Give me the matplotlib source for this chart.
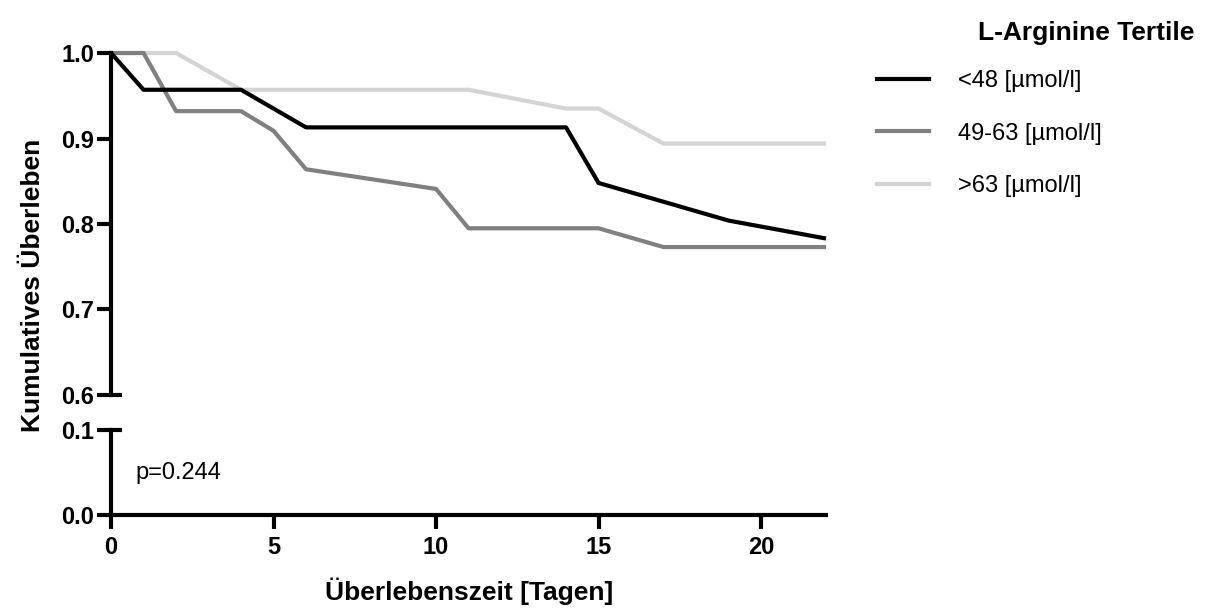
import matplotlib
matplotlib.use('Agg')
import matplotlib.pyplot as plt
from matplotlib.lines import Line2D

plt.rcParams['font.family'] = ['Liberation Sans', 'DejaVu Sans']

# Kaplan-Meier estimates per L-arginine tertile (days, cumulative survival)
days_low = [0, 1, 2, 3, 4, 5, 6, 10, 11, 14, 15, 17, 19, 22]
surv_low = [1.0, 0.957, 0.957, 0.957, 0.957, 0.935, 0.913, 0.913, 0.913, 0.913, 0.848, 0.826, 0.804, 0.783]

days_mid = [0, 1, 2, 4, 5, 6, 10, 11, 15, 17, 22]
surv_mid = [1.0, 1.0, 0.932, 0.932, 0.909, 0.864, 0.841, 0.795, 0.795, 0.773, 0.773]

days_high = [0, 2, 4, 10, 11, 14, 15, 17, 22]
surv_high = [1.0, 1.0, 0.957, 0.957, 0.957, 0.935, 0.935, 0.894, 0.894]

labels = ['<48 [µmol/l]', '49-63 [µmol/l]', '>63 [µmol/l]']
colors = ['#000000', '#808080', '#d4d4d4']

upper_ticks = [0.6, 0.7, 0.8, 0.9, 1.0]
lower_ticks = [0.0, 0.1]
x_ticks = [0, 5, 10, 15, 20]

fig = plt.figure(figsize=(12.11, 6.10), dpi=100)
left, width = 0.0917, 0.5904
ax_up = fig.add_axes([left, 0.3525, width, 0.5606])
ax_lo = fig.add_axes([left, 0.1557, width, 0.1394])

lw = 3
tick_fs = 17
series = [(days_low, surv_low), (days_mid, surv_mid), (days_high, surv_high)]
# draw light lines first so black sits on top
for (d, s), c in reversed(list(zip(series, colors))):
    ax_up.plot(d, s, color=c, lw=lw, clip_on=False, solid_capstyle='butt')

for ax in (ax_up, ax_lo):
    ax.set_xlim(0, 22)
    for sp in ('top', 'right'):
        ax.spines[sp].set_visible(False)
    ax.spines['left'].set_linewidth(lw)
    ax.spines['bottom'].set_linewidth(lw)
    ax.tick_params(axis='both', width=lw, length=10)

ax_up.set_ylim(0.6, 1.0)
ax_up.spines['bottom'].set_visible(False)
ax_up.set_xticks([])
ax_up.set_yticks(upper_ticks)
ax_up.set_yticklabels(['%.1f' % v for v in upper_ticks], fontweight='bold', fontsize=tick_fs)
ax_up.tick_params(axis='y', pad=2)

ax_lo.set_ylim(0, 0.1)
ax_lo.set_yticks(lower_ticks)
ax_lo.set_yticklabels(['%.1f' % v for v in lower_ticks], fontweight='bold', fontsize=tick_fs)
ax_lo.set_xticks(x_ticks)
ax_lo.set_xticklabels([str(v) for v in x_ticks], fontweight='bold', fontsize=tick_fs)
ax_lo.tick_params(axis='y', pad=2)
ax_lo.tick_params(axis='x', pad=5)

# caps at the axis break
ax_up.plot([0, 0.015], [0.6, 0.6], transform=ax_up.get_yaxis_transform(),
           color='k', lw=lw, clip_on=False, solid_capstyle='butt')
ax_lo.plot([0, 0.015], [0.1, 0.1], transform=ax_lo.get_yaxis_transform(),
           color='k', lw=lw, clip_on=False, solid_capstyle='butt')

ax_lo.text(0.75, 0.049, 'p=0.244', fontsize=17, va='center', ha='left')

fig.text(0.027, 0.532, 'Kumulatives Überleben', rotation=90, fontsize=19,
         fontweight='bold', ha='center', va='center')
fig.text(0.387, 0.03, 'Überlebenszeit [Tagen]', fontsize=19,
         fontweight='bold', ha='center', va='center')

handles = [Line2D([], [], color=c, lw=lw) for c in colors]
fig.legend(handles, labels, loc='upper left', bbox_to_anchor=(877 / 1211, 1 - 70 / 610),
           frameon=False, fontsize=17, handlelength=2.2, handletextpad=1.25,
           labelspacing=1.3, borderpad=0, borderaxespad=0)
fig.text(1086 / 1211, 1 - 33 / 610, 'L-Arginine Tertile', fontsize=19,
         fontweight='bold', ha='center', va='center')

fig.savefig('out.png', dpi=100)
